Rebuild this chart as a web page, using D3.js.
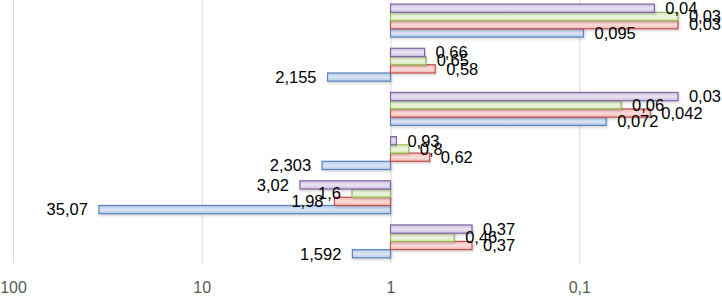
<!DOCTYPE html>
<html>
<head>
<meta charset="utf-8">
<script src="https://cdn.jsdelivr.net/npm/d3@7"></script>
<style>
  body { margin: 0; background: #fff; }
  #chart { width: 722px; height: 296px; }
  .tick text { font-family: "Liberation Sans", Arial, sans-serif; font-size: 16px; fill: #595959; }
  .val { font-family: "Liberation Sans", Arial, sans-serif; font-size: 16.5px; fill: #000; }
</style>
</head>
<body>
<div id="chart"></div>
<script>
// categories top to bottom (no names shown on the axis)
const categories = ['A', 'B', 'C', 'D', 'E', 'F'];
const seriesNames = ['s1', 's2', 's3', 's4'];   // blue, red, green, purple
const s1 = [0.095, 2.155, 0.072, 2.303, 35.07, 1.592];
const s2 = [0.03, 0.58, 0.042, 0.62, 1.98, 0.37];
const s3 = [0.03, 0.65, 0.06, 0.8, 1.6, 0.46];
const s4 = [0.04, 0.66, 0.03, 0.93, 3.02, 0.37];
const tickVals = [100, 10, 1, 0.1];

const seriesVals = [s1, s2, s3, s4];
const colors = [
  {stroke: '#5b83bf', edge: '#b3c9e8', mid: '#dbe6f5'},
  {stroke: '#c0504d', edge: '#f2b6b5', mid: '#fbdedd'},
  {stroke: '#9bbb59', edge: '#d5e8b8', mid: '#eef6e0'},
  {stroke: '#8064a2', edge: '#cdc2df', mid: '#e8e2f1'}
];

const width = 722, height = 296;
const margin = {top: -1.5, bottom: 32.5};
const innerH = height - margin.top - margin.bottom;

const svg = d3.select('#chart').append('svg')
    .attr('width', width)
    .attr('height', height);

const defs = svg.append('defs');
colors.forEach((c, i) => {
    const gr = defs.append('linearGradient')
        .attr('id', 'grad' + i)
        .attr('x1', 0).attr('y1', 0).attr('x2', 0).attr('y2', 1);
    gr.append('stop').attr('offset', '0%').attr('stop-color', c.edge);
    gr.append('stop').attr('offset', '50%').attr('stop-color', c.mid);
    gr.append('stop').attr('offset', '100%').attr('stop-color', c.edge);
});
defs.append('filter').attr('id', 'shadow')
    .attr('x', '-5%').attr('y', '-30%').attr('width', '110%').attr('height', '180%')
  .append('feDropShadow')
    .attr('dx', 1).attr('dy', 1.5).attr('stdDeviation', 1)
    .attr('flood-color', '#000').attr('flood-opacity', 0.18);

// log axis runs from 100 down to 0.01 (0.01 falls just outside the picture)
const x = d3.scaleLog()
    .domain([100, 0.01])
    .range([13, 768]);

const y = d3.scaleBand()
    .domain(categories)
    .range([margin.top, margin.top + innerH])
    .paddingInner(0.255)
    .paddingOuter(0.1275);

// blue series at the bottom of each group
const yIn = d3.scaleBand()
    .domain(seriesNames.slice().reverse())
    .range([0, y.bandwidth()]);

const fmt = v => String(v).replace('.', ',');

// gridlines + tick labels
const xAxis = d3.axisBottom(x)
    .tickValues(tickVals)
    .tickFormat(fmt)
    .tickSize(-innerH)
    .tickPadding(18);

const xAxisG = svg.append('g')
    .attr('transform', `translate(0,${margin.top + innerH})`)
    .call(xAxis);
xAxisG.select('.domain').remove();
xAxisG.selectAll('.tick line').attr('stroke', '#d9d9d9');

const rows = [];
seriesVals.forEach((vals, si) => {
    vals.forEach((v, ci) => rows.push({s: si, cat: categories[ci], v: v}));
});

const bars = svg.append('g').attr('class', 'bars');
bars.selectAll('rect').data(rows)
    .enter()
    .append('rect')
    .attr('x', d => Math.min(x(d.v), x(1)))
    .attr('y', d => y(d.cat) + yIn(seriesNames[d.s]))
    .attr('width', d => Math.abs(x(d.v) - x(1)))
    .attr('height', yIn.bandwidth())
    .attr('fill', d => `url(#grad${d.s})`)
    .attr('stroke', d => colors[d.s].stroke)
    .attr('stroke-width', 1.2)
    .attr('filter', 'url(#shadow)');

const labels = svg.append('g').attr('class', 'labels');
labels.selectAll('text').data(rows)
    .enter()
    .append('text')
    .attr('class', 'val')
    .attr('x', d => d.v < 1 ? x(d.v) + 11 : x(d.v) - 11)
    .attr('y', d => y(d.cat) + yIn(seriesNames[d.s]) + yIn.bandwidth() / 2)
    .attr('dy', '0.35em')
    .attr('text-anchor', d => d.v < 1 ? 'start' : 'end')
    .text(d => fmt(d.v));
</script>
</body>
</html>
